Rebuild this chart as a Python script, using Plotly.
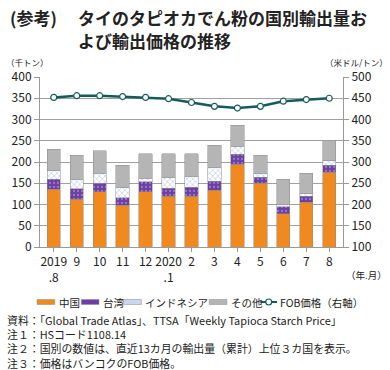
import plotly.graph_objects as go

months = ["2019<br>.8", "9", "10", "11", "12", "2020<br>.1", "2", "3", "4", "5", "6", "7", "8"]
china = [136, 112, 130, 98, 130, 119, 119, 134, 195, 150, 78, 105, 176]
taiwan = [24, 25, 20, 18, 23, 19, 22, 21, 23, 14, 17, 15, 16]
indonesia = [20, 22, 23, 23, 9, 25, 25, 32, 19, 10, 5, 5, 11]
others = [50, 57, 53, 53, 57, 57, 54, 52, 49, 42, 59, 48, 48]
fob = [452, 456, 456, 454, 452, 449, 440, 431, 427, 431, 443, 447, 450]
notes = [
    "資料：「Global Trade Atlas」、TTSA「Weekly Tapioca Starch Price」",
    "注１：HSコード1108.14",
    "注２：国別の数値は、直近13カ月の輸出量（累計）上位３カ国を表示。",
    "注３：価格はバンコクのFOB価格。",
]

FONT = "Noto Sans CJK JP"
W, H = 390, 370
L, R, T, B = 35, 47, 77, 123
x = list(range(len(months)))
edge = dict(color="#8a8a8a", width=0.5)

C_CHINA, C_TW, C_ID, C_OT, C_LINE = "#F0891E", "#6B3FA3", "#FFFFFF", "#B5B5B5", "#145C5A"

fig = go.Figure()
fig.add_trace(go.Bar(x=x, y=china, name="中国", marker=dict(color=C_CHINA, line=edge), width=0.58))
fig.add_trace(go.Bar(x=x, y=taiwan, name="台湾",
                     marker=dict(color=C_TW, line=edge,
                                 pattern=dict(shape=".", fgcolor="#C7B0E6", size=4, solidity=0.25)),
                     width=0.58))
fig.add_trace(go.Bar(x=x, y=indonesia, name="インドネシア",
                     marker=dict(color=C_ID, line=edge,
                                 pattern=dict(shape="x", fgcolor="#8DA6D6", size=4, solidity=0.35)),
                     width=0.58))
fig.add_trace(go.Bar(x=x, y=others, name="その他", marker=dict(color=C_OT, line=edge), width=0.58))
fig.add_trace(go.Scatter(x=x, y=fob, name="FOB価格（右軸）", yaxis="y2", mode="lines+markers",
                         line=dict(color=C_LINE, width=2.5),
                         marker=dict(color="white", size=6, line=dict(color=C_LINE, width=1.2))))

fig.update_layout(
    width=W, height=H,
    margin=dict(l=L, r=R, t=T, b=B),
    barmode="stack",
    plot_bgcolor="white", paper_bgcolor="white",
    font=dict(family=FONT, size=12, color="#222"),
    showlegend=False,
    xaxis=dict(tickvals=x, ticktext=months, range=[-0.6, 12.6], showline=True,
               linecolor="#999", showgrid=False, ticks="outside", ticklen=4, tickcolor="#999",
               tickfont=dict(size=12), zeroline=False),
    yaxis=dict(range=[0, 400], dtick=50, showgrid=True, gridcolor="#A0A0A0", gridwidth=1,
               showline=True, linecolor="#999", ticks="outside", ticklen=5, tickcolor="#999",
               tickfont=dict(size=12), zeroline=False),
    yaxis2=dict(range=[100, 500], dtick=50, overlaying="y", side="right", showgrid=False,
                showline=True, linecolor="#999", ticks="outside", ticklen=5, tickcolor="#999",
                tickfont=dict(size=12), zeroline=False),
)

def px(xp):
    return (xp - L) / (W - L - R)

def py(yp):
    return 1 - (yp - T) / (H - T - B)

annotations = [
    dict(text="<b>(参考)</b>", x=2, y=3, xanchor="left", yanchor="top", font=dict(size=17)),
    dict(text="<b>タイのタピオカでん粉の国別輸出量お</b>", x=72, y=3, xanchor="left", yanchor="top", font=dict(size=17)),
    dict(text="<b>よび輸出価格の推移</b>", x=72, y=26, xanchor="left", yanchor="top", font=dict(size=17)),
    dict(text="（千トン）", x=-2, y=62, xanchor="left", yanchor="middle", font=dict(size=8.5)),
    dict(text="（米ドル/トン）", x=391, y=62, xanchor="right", yanchor="middle", font=dict(size=8.5)),
    dict(text="（年.月）", x=390, y=275, xanchor="right", yanchor="middle", font=dict(size=9.5)),
    dict(text="<br>".join(notes), x=-1, y=341.5, xanchor="left", yanchor="middle", font=dict(size=10.9)),
]
# manual legend
leg_y = 302
items = [("中国", C_CHINA, 32), ("台湾", C_TW, 77), ("インドネシア", "#C9D6EE", 120), ("その他", C_OT, 207)]
for name, col, x0 in items:
    fig.add_shape(type="rect", xref="paper", yref="paper", x0=px(x0), x1=px(x0 + 18),
                  y0=py(leg_y + 2.5), y1=py(leg_y - 2.5), fillcolor=col,
                  line=dict(color="#8a8a8a", width=0.5))
    annotations.append(dict(text=name, x=x0 + 20, y=leg_y, xanchor="left", yanchor="middle", font=dict(size=10.5)))
fig.add_shape(type="line", xref="paper", yref="paper", x0=px(259), x1=px(276), y0=py(leg_y), y1=py(leg_y),
              line=dict(color=C_LINE, width=2))
fig.add_shape(type="circle", xref="paper", yref="paper", x0=px(264.5), x1=px(270.5), y0=py(leg_y + 3), y1=py(leg_y - 3),
              fillcolor="white", line=dict(color=C_LINE, width=1.2))
annotations.append(dict(text="FOB価格（右軸）", x=277, y=leg_y, xanchor="left", yanchor="middle", font=dict(size=10.5)))

for a in annotations:
    fig.add_annotation(xref="paper", yref="paper", showarrow=False, align="left",
                       x=px(a["x"]), y=py(a["y"]),
                       xanchor=a["xanchor"], yanchor=a["yanchor"], text=a["text"], font=a["font"])

fig.write_html("out.html", config={"displayModeBar": False},
               post_script="document.body.style.margin='0';document.body.style.overflow='hidden';")
